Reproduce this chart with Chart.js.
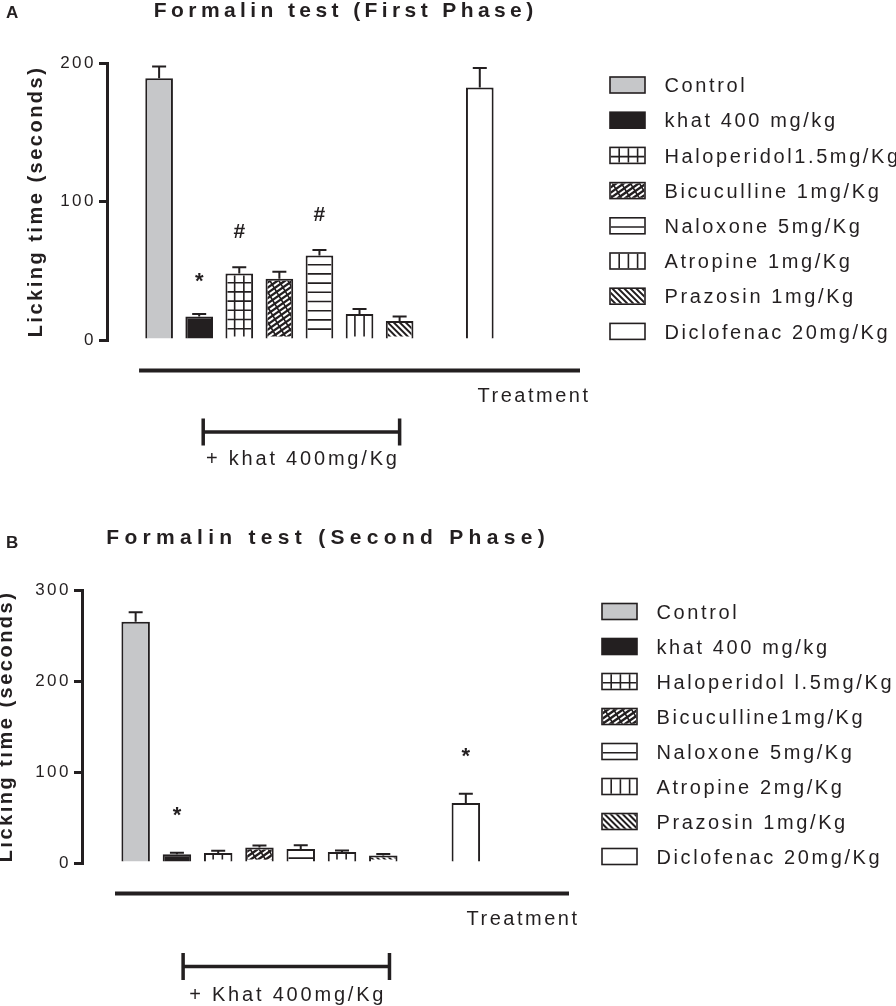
<!DOCTYPE html>
<html>
<head>
<meta charset="utf-8">
<title>Formalin test</title>
<script src="https://cdn.jsdelivr.net/npm/chart.js@4.4.1/dist/chart.umd.min.js"></script>
<style>
  html, body { margin: 0; padding: 0; background: #ffffff; }
  canvas { display: block; }
</style>
</head>
<body>
<canvas id="phase1" width="896" height="503"></canvas>
<canvas id="phase2" width="896" height="503"></canvas>
<script>
// Formalin test - licking time (s), mean and SEM per treatment group

const groupsFirst = ['Control', 'khat 400 mg/kg', 'Haloperidol1.5mg/Kg', 'Bicuculline 1mg/Kg',
    'Naloxone 5mg/Kg', 'Atropine 1mg/Kg', 'Prazosin 1mg/Kg', 'Diclofenac 20mg/Kg'];
const lickingFirst = [189, 17, 48, 44.3, 61, 18.8, 13.7, 182.4];
const semFirst = [8.5, 1.8, 4.6, 4.9, 3.9, 3.6, 3.2, 14];
const marksFirst = ['', '*', '#', '', '#', '', '', ''];
const ticksFirst = [0, 100, 200];

const groupsSecond = ['Control', 'khat 400 mg/kg', 'Haloperidol l.5mg/Kg', 'Bicuculline1mg/Kg',
    'Naloxone 5mg/Kg', 'Atropine 2mg/Kg', 'Prazosin 1mg/Kg', 'Diclofenac 20mg/Kg'];
const lickingSecond = [265, 9.5, 11, 17, 15.5, 12, 8.2, 66];
const semSecond = [10.5, 1.8, 2.5, 2.2, 4, 1.7, 1.6, 10];
const marksSecond = ['', '*', '', '', '', '', '', '*'];
const ticksSecond = [0, 100, 200, 300];

// fill style of each group, same order as the groups above
const groupStyles = ['gray', 'black', 'grid', 'brick', 'hlines', 'vlines', 'hatch', 'plain'];

const ink = '#231f20';
const family = "'Liberation Sans', Arial, sans-serif";

Chart.defaults.font.family = family;
Chart.defaults.color = ink;

function baseFill(style) {
    if (style === 'gray') return '#c6c7c9';
    if (style === 'black') return ink;
    return '#ffffff';
}

// positive control sits one empty slot after the khat groups
function slotOf(i, n) {
    return i === n - 1 ? i + 1 : i;
}

function drawText(ctx, str, x, y, font, align, spacing) {
    ctx.save();
    ctx.font = font;
    ctx.letterSpacing = spacing + 'px';
    ctx.fillStyle = ink;
    ctx.textAlign = 'left';
    ctx.textBaseline = 'alphabetic';
    const w = ctx.measureText(str).width - spacing;
    let left = x;
    if (align === 'center') left = x - w / 2;
    if (align === 'right') left = x - w;
    ctx.fillText(str, left, y);
    ctx.restore();
}

// hatch / grid fills, laid out from the outer box, clipped inside the border
function paintPattern(ctx, style, x, y, w, h, inset) {
    if (w - 2 * inset <= 0 || h - 2 * inset <= 0) return;
    const step = 9.2;
    ctx.save();
    ctx.beginPath();
    ctx.rect(x + inset, y + inset, w - 2 * inset, h - 2 * inset);
    ctx.clip();
    ctx.strokeStyle = ink;
    ctx.lineWidth = 1.6;
    ctx.beginPath();
    if (style === 'grid' || style === 'vlines') {
        for (let px = x + step; px < x + w - 2; px += step) {
            ctx.moveTo(px, y);
            ctx.lineTo(px, y + h);
        }
    }
    if (style === 'grid' || style === 'hlines') {
        for (let py = y + step; py < y + h - 2; py += step) {
            ctx.moveTo(x, py);
            ctx.lineTo(x + w, py);
        }
    }
    ctx.stroke();
    if (style === 'hatch') {
        ctx.lineWidth = 2;
        ctx.beginPath();
        for (let k = -h; k < w + h; k += 6) {
            ctx.moveTo(x + k, y);
            ctx.lineTo(x + k + h, y + h);
        }
        ctx.stroke();
    }
    if (style === 'brick') {
        // shallow "/" strokes cut by steep "\" breaks
        ctx.lineWidth = 2.4;
        ctx.beginPath();
        const run = h / 0.7;
        for (let k = -run; k < w + run; k += 7.5) {
            ctx.moveTo(x + k, y + h);
            ctx.lineTo(x + k + run, y);
        }
        ctx.stroke();
        ctx.lineWidth = 1.6;
        ctx.beginPath();
        for (let k = -h; k < w + h; k += 9) {
            ctx.moveTo(x + k, y);
            ctx.lineTo(x + k + h * 0.6, y + h);
        }
        ctx.stroke();
    }
    ctx.restore();
}

function figurePlugin(panel) {
    return {
        id: 'figure',
        beforeDraw(chart) {
            chart.ctx.letterSpacing = '2.5px';
        },
        afterDatasetsDraw(chart) {
            const ctx = chart.ctx;
            const yScale = chart.scales.y;
            chart.getDatasetMeta(0).data.forEach((bar, i) => {
                const p = bar.getProps(['x', 'y', 'base', 'width'], true);
                paintPattern(ctx, groupStyles[i], p.x - p.width / 2, p.y, p.width, p.base - p.y, 2);

                // SEM, upper half only
                const errTop = yScale.getPixelForValue(panel.values[i] + panel.sem[i]);
                ctx.save();
                ctx.strokeStyle = ink;
                ctx.lineWidth = 2;
                ctx.beginPath();
                ctx.moveTo(p.x, p.y);
                ctx.lineTo(p.x, errTop);
                ctx.moveTo(p.x - 7, errTop);
                ctx.lineTo(p.x + 7, errTop);
                ctx.stroke();
                ctx.restore();

                const glyph = panel.marks[i];
                if (glyph) {
                    ctx.save();
                    ctx.font = 'bold ' + (glyph === '*' ? 22 : 21) + 'px ' + family;
                    ctx.letterSpacing = '0px';
                    ctx.fillStyle = ink;
                    ctx.textAlign = 'center';
                    ctx.textBaseline = 'alphabetic';
                    const m = ctx.measureText(glyph);
                    const cy = errTop - panel.markGap;
                    ctx.fillText(glyph, p.x, cy + (m.actualBoundingBoxAscent - m.actualBoundingBoxDescent) / 2);
                    ctx.restore();
                }
            });
        },
        afterDraw(chart) {
            const ctx = chart.ctx;
            const area = chart.chartArea;
            const xScale = chart.scales.x;

            drawText(ctx, panel.letter, 6, panel.letterBaseline, 'bold 17px ' + family, 'left', 0);
            drawText(ctx, panel.title, (area.left + area.right) / 2, area.top - 46,
                'bold 21px ' + family, 'center', panel.titleSpacing);

            // treatment axis, offset below the plot
            const lineY = area.bottom + 30.5;
            const x0 = xScale.getPixelForValue(-0.5);
            ctx.save();
            ctx.fillStyle = ink;
            ctx.fillRect(x0, lineY - 2, area.right - x0, 4);
            ctx.restore();
            drawText(ctx, 'Treatment', area.right + 8, lineY + 31, '20px ' + family, 'right', 2.5);

            // bracket for the groups given with khat
            const bx1 = xScale.getPixelForValue(panel.bracket[0]);
            const bx2 = xScale.getPixelForValue(panel.bracket[1]);
            const by = area.bottom + panel.bracketGap;
            ctx.save();
            ctx.strokeStyle = ink;
            ctx.lineWidth = 3.5;
            ctx.beginPath();
            ctx.moveTo(bx1, by);
            ctx.lineTo(bx2, by);
            ctx.moveTo(bx1, by - 13.5);
            ctx.lineTo(bx1, by + 13.5);
            ctx.moveTo(bx2, by - 13.5);
            ctx.lineTo(bx2, by + 13.5);
            ctx.stroke();
            ctx.restore();
            drawText(ctx, panel.bracketLabel, (bx1 + bx2) / 2, area.bottom + panel.bracketLabelGap,
                '20px ' + family, 'center', 2.8);

            // legend
            const lg = panel.legend;
            panel.groups.forEach((label, i) => {
                const cy = lg.top + i * lg.step;
                const bw = 35, bh = 16;
                const bx = lg.x, byTop = cy - bh / 2;
                ctx.save();
                ctx.fillStyle = baseFill(groupStyles[i]);
                ctx.fillRect(bx, byTop, bw, bh);
                ctx.restore();
                paintPattern(ctx, groupStyles[i], bx, byTop, bw, bh, 0.8);
                ctx.save();
                ctx.strokeStyle = ink;
                ctx.lineWidth = 1.6;
                ctx.strokeRect(bx, byTop, bw, bh);
                ctx.restore();
                drawText(ctx, label, bx + 54.5, cy + 7.2, '20px ' + family, 'left', 2.6);
            });
        }
    };
}

function drawPanel(canvasId, panel) {
    const n = panel.values.length;
    return new Chart(document.getElementById(canvasId), {
        type: 'bar',
        data: {
            datasets: [{
                data: panel.values.map((v, i) => ({ x: slotOf(i, n), y: v })),
                backgroundColor: groupStyles.map(baseFill),
                borderColor: ink,
                borderWidth: 2,
                barPercentage: 0.69,
                categoryPercentage: 1
            }]
        },
        options: {
            responsive: false,
            animation: false,
            events: [],
            layout: { padding: panel.padding },
            plugins: {
                legend: { display: false },
                tooltip: { enabled: false }
            },
            scales: {
                x: {
                    type: 'linear',
                    display: false,
                    offset: false,
                    min: -1.3,
                    max: 10.5,
                    afterBuildTicks: scale => { scale.ticks = []; }
                },
                y: {
                    min: panel.ticks[0],
                    max: panel.ticks[panel.ticks.length - 1],
                    afterFit: scale => { scale.width = panel.axisWidth; },
                    ticks: {
                        stepSize: panel.ticks[1] - panel.ticks[0],
                        font: { size: 17 },
                        color: ink,
                        padding: 3
                    },
                    grid: {
                        drawOnChartArea: false,
                        drawTicks: true,
                        tickLength: 8,
                        lineWidth: 3,
                        color: ink
                    },
                    border: { display: true, width: 3, color: ink },
                    title: {
                        display: true,
                        text: 'Licking time (seconds)',
                        font: { size: 20, weight: 'bold' },
                        color: ink,
                        padding: { top: panel.yTitlePad, bottom: 0 }
                    }
                }
            }
        },
        plugins: [figurePlugin(panel)]
    });
}

drawPanel('phase1', {
    letter: 'A',
    letterBaseline: 18.3,
    title: 'Formalin test (First Phase)',
    titleSpacing: 4.4,
    groups: groupsFirst,
    values: lickingFirst,
    sem: semFirst,
    marks: marksFirst,
    ticks: ticksFirst,
    markGap: 36,
    bracket: [1.1, 6.0],
    bracketLabel: '+ khat 400mg/Kg',
    bracketGap: 92,
    bracketLabelGap: 124.5,
    axisWidth: 107,
    yTitlePad: 24.3,
    padding: { top: 63, bottom: 163, left: 0, right: 316 },
    legend: { x: 610, top: 85, step: 35.2 }
});

drawPanel('phase2', {
    letter: 'B',
    letterBaseline: 45.3,
    title: 'Formalin test (Second Phase)',
    titleSpacing: 5.3,
    groups: groupsSecond,
    values: lickingSecond,
    sem: semSecond,
    marks: marksSecond,
    ticks: ticksSecond,
    markGap: 41,
    bracket: [1.15, 6.15],
    bracketLabel: '+ Khat 400mg/Kg',
    bracketGap: 103.4,
    bracketLabelGap: 138,
    axisWidth: 82,
    yTitlePad: -5.9,
    padding: { top: 87, bottom: 143, left: 0, right: 327 },
    legend: { x: 602, top: 108.5, step: 35 }
});
</script>
</body>
</html>
